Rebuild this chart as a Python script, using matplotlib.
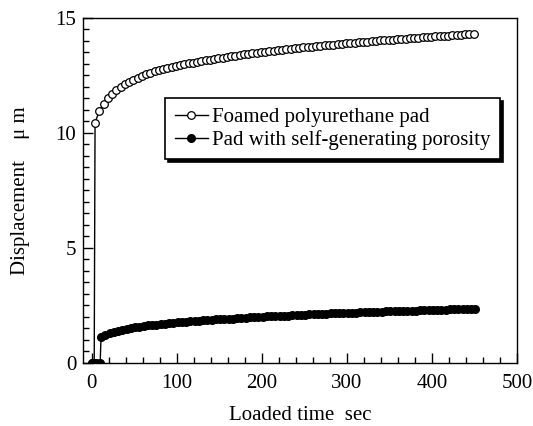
import numpy as np
import matplotlib
matplotlib.use('Agg')
import matplotlib.pyplot as plt
from matplotlib.ticker import MultipleLocator

plt.rcParams['font.family'] = ['Liberation Serif', 'DejaVu Serif']
plt.rcParams['font.size'] = 15

# Foamed polyurethane pad: flat at zero, then jumps when loaded (every 5 s from t=4)
foam_start = [0.0, 0.0]
foam_start_t = [0.0, 3.0]
foam_vals = [10.45, 10.95, 11.25, 11.5, 11.7, 11.87, 12.0, 12.12, 12.22, 12.32,
             12.4, 12.48, 12.55, 12.61, 12.67, 12.72, 12.77, 12.82, 12.86, 12.9,
             12.94, 12.98, 13.02, 13.06, 13.09, 13.12, 13.15, 13.18, 13.21, 13.24,
             13.27, 13.3, 13.33, 13.36, 13.38, 13.41, 13.43, 13.46, 13.48, 13.5,
             13.53, 13.55, 13.57, 13.6, 13.62, 13.64, 13.66, 13.68, 13.7, 13.72,
             13.73, 13.75, 13.77, 13.79, 13.81, 13.83, 13.84, 13.86, 13.88, 13.89,
             13.91, 13.93, 13.94, 13.96, 13.97, 13.99, 14.0, 14.02, 14.03, 14.05,
             14.06, 14.08, 14.09, 14.1, 14.12, 14.13, 14.14, 14.16, 14.17, 14.18,
             14.2, 14.21, 14.22, 14.23, 14.25, 14.26, 14.27, 14.28, 14.3, 14.32]

# Pad with self-generating porosity (every 5 s from t=11)
pore_start = [0.0, 0.0, 0.0]
pore_start_t = [0.0, 5.0, 10.0]
pore_vals = [1.12, 1.22, 1.3, 1.36, 1.41, 1.45, 1.49, 1.52, 1.55, 1.58,
             1.6, 1.63, 1.65, 1.67, 1.69, 1.71, 1.73, 1.75, 1.76, 1.78,
             1.79, 1.81, 1.82, 1.84, 1.85, 1.86, 1.88, 1.89, 1.9, 1.91,
             1.92, 1.93, 1.95, 1.96, 1.97, 1.98, 1.99, 2.0, 2.01, 2.02,
             2.03, 2.04, 2.05, 2.05, 2.06, 2.07, 2.08, 2.09, 2.1, 2.11,
             2.11, 2.12, 2.13, 2.14, 2.15, 2.15, 2.16, 2.17, 2.18, 2.18,
             2.19, 2.2, 2.2, 2.21, 2.22, 2.22, 2.23, 2.24, 2.24, 2.25,
             2.26, 2.26, 2.27, 2.28, 2.28, 2.29, 2.29, 2.3, 2.31, 2.31,
             2.32, 2.32, 2.33, 2.34, 2.34, 2.35, 2.35, 2.36, 2.36]

foam_t = foam_start_t + list(4 + 5 * np.arange(len(foam_vals)))
foam_y = foam_start + foam_vals
pore_t = pore_start_t + list(11 + 5 * np.arange(len(pore_vals)))
pore_y = pore_start + pore_vals

fig = plt.figure(figsize=(5.33, 4.26), dpi=100)
ax = fig.add_axes([0.156, 0.148, 0.814, 0.810])

ax.plot(foam_t, foam_y, '-', color='black', lw=1.0, marker='o', ms=5.5,
        mfc='white', mec='black', mew=0.9, label='Foamed polyurethane pad')
ax.plot(pore_t, pore_y, '-', color='black', lw=1.0, marker='o', ms=5.5,
        mfc='black', mec='black', label='Pad with self-generating porosity')

ax.set_xlim(-10, 500)
ax.set_ylim(0, 15)
ax.xaxis.set_major_locator(MultipleLocator(100))
ax.xaxis.set_minor_locator(MultipleLocator(20))
ax.yaxis.set_major_locator(MultipleLocator(5))
ax.yaxis.set_minor_locator(MultipleLocator(0.5))
ax.tick_params(which='both', direction='in', top=False, right=False)
ax.tick_params(which='major', length=7, width=1)
ax.tick_params(which='minor', length=4, width=1)
ax.tick_params(axis='x', which='major', pad=8)
ax.tick_params(axis='y', which='major', pad=5)
for s in ax.spines.values():
    s.set_linewidth(1.0)

ax.set_xlabel('Loaded time  sec', labelpad=9)
ax.set_ylabel('Displacement    μ m', labelpad=18)

leg = ax.legend(loc='upper left', bbox_to_anchor=(0.189, 0.768),
                frameon=True, fancybox=False, shadow={'color': 'black', 'alpha': 1},
                edgecolor='black', framealpha=1, handlelength=1.6,
                handletextpad=0.2, borderpad=0.45, labelspacing=0.15,
                borderaxespad=0, fontsize=15)
leg.get_frame().set_linewidth(1.2)

fig.savefig('out.png', dpi=100)
